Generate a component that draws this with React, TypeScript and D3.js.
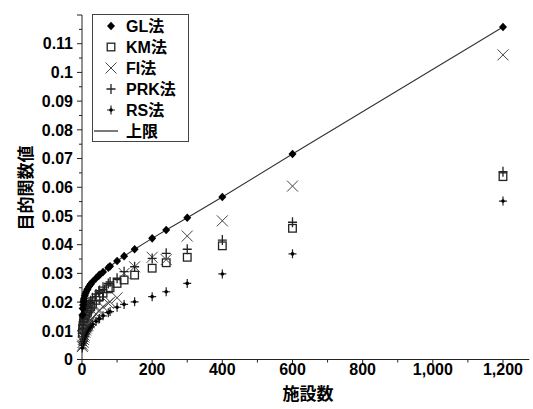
import React from "react";
import * as d3 from "d3";

const xValues = [1200, 600, 400, 300, 240, 200, 150, 120, 100, 80, 75, 60, 50, 48, 40, 30, 25, 24, 20, 16, 15, 12, 10, 8, 6, 5, 4, 3, 2, 1];
const glValues = [0.1158, 0.0716, 0.0566, 0.0494, 0.0451, 0.0422, 0.0384, 0.036, 0.0343, 0.0325, 0.032, 0.0305, 0.0295, 0.0292, 0.0283, 0.0271, 0.0263, 0.0261, 0.0254, 0.0246, 0.0243, 0.0236, 0.023, 0.0222, 0.0213, 0.0207, 0.02, 0.019, 0.0178, 0.0155];
const kmValues = [0.0637, 0.0457, 0.0396, 0.0356, 0.0337, 0.0318, 0.0294, 0.0277, 0.0265, 0.025, 0.0246, 0.0231, 0.022, 0.0217, 0.0206, 0.0193, 0.0185, 0.0183, 0.0176, 0.0168, 0.0165, 0.0158, 0.0152, 0.0145, 0.0137, 0.0132, 0.0126, 0.0118, 0.0108, 0.0092];
const fiValues = [0.1061, 0.0604, 0.0483, 0.043, 0.0348, 0.0356, 0.0323, 0.03, 0.0215, 0.0201, 0.0196, 0.0184, 0.0172, 0.0168, 0.0158, 0.0145, 0.0138, 0.0136, 0.0128, 0.012, 0.0117, 0.011, 0.0103, 0.0095, 0.0085, 0.0078, 0.007, 0.006, 0.005, 0.0045];
const prkValues = [0.0654, 0.0478, 0.0416, 0.0384, 0.037, 0.0352, 0.0323, 0.0306, 0.0283, 0.027, 0.0265, 0.0252, 0.024, 0.0238, 0.0228, 0.0215, 0.0205, 0.0203, 0.0195, 0.0185, 0.0182, 0.0172, 0.0165, 0.0155, 0.0145, 0.0138, 0.013, 0.012, 0.0108, 0.009];
const rsValues = [0.0552, 0.0368, 0.0298, 0.0265, 0.0236, 0.0219, 0.0201, 0.0192, 0.0182, 0.0167, 0.0163, 0.0152, 0.0143, 0.0141, 0.0133, 0.0122, 0.0115, 0.0113, 0.0107, 0.01, 0.0098, 0.0091, 0.0086, 0.008, 0.0072, 0.0068, 0.0063, 0.0057, 0.005, 0.004];
const upperValues = glValues;

const xTicks = [0, 200, 400, 600, 800, 1000, 1200];
const xMinorTicks = [100, 300, 500, 700, 900, 1100];
const yTicks = [0, 0.01, 0.02, 0.03, 0.04, 0.05, 0.06, 0.07, 0.08, 0.09, 0.1, 0.11];
const yTickLabels = ["0", "0.01", "0.02", "0.03", "0.04", "0.05", "0.06", "0.07", "0.08", "0.09", "0.1", "0.11"];
const legendLabels = ["GL法", "KM法", "FI法", "PRK法", "RS法", "上限"];

const FONT = "'Liberation Sans', Arial, 'Noto Sans CJK JP', sans-serif";

type Kind = "diamond" | "square" | "cross" | "plus" | "star";

function Marker({ kind, x, y }: { kind: Kind; x: number; y: number }) {
  if (kind === "diamond") {
    return <path d={`M${x},${y - 4.3}L${x + 4},${y}L${x},${y + 4.3}L${x - 4},${y}Z`} fill="#000" />;
  }
  if (kind === "square") {
    return <rect x={x - 3.8} y={y - 3.8} width={7.6} height={7.6} fill="none" stroke="#222" strokeWidth={1.3} />;
  }
  if (kind === "cross") {
    return <path d={`M${x - 5.5},${y - 5.5}L${x + 5.5},${y + 5.5}M${x - 5.5},${y + 5.5}L${x + 5.5},${y - 5.5}`} stroke="#444" strokeWidth={1} fill="none" />;
  }
  if (kind === "plus") {
    return <path d={`M${x - 4.5},${y}L${x + 4.5},${y}M${x},${y - 5}L${x},${y + 5}`} stroke="#222" strokeWidth={1.3} fill="none" />;
  }
  return (
    <g>
      <path d={`M${x - 4},${y}L${x + 4},${y}M${x},${y - 4.5}L${x},${y + 4.5}`} stroke="#222" strokeWidth={1.2} fill="none" />
      <circle cx={x} cy={y} r={1.8} fill="#000" />
    </g>
  );
}

export default function App() {
  const W = 533;
  const H = 409;
  const x = d3.scaleLinear().domain([0, 1275]).range([82, 529.3]);
  const y = d3.scaleLinear().domain([0, 0.12]).range([359.5, 15]);

  const series: { kind: Kind; values: number[] }[] = [
    { kind: "square", values: kmValues },
    { kind: "cross", values: fiValues },
    { kind: "plus", values: prkValues },
    { kind: "star", values: rsValues },
    { kind: "diamond", values: glValues },
  ];

  const line = d3
    .line<number>()
    .x((_, i) => x(xValues[i]))
    .y((d) => y(d));

  const yMinor = d3.range(0.005, 0.12, 0.01);
  const legendKinds: Kind[] = ["diamond", "square", "cross", "plus", "star"];

  return (
    <svg width={W} height={H} style={{ position: "absolute", left: 0, top: 0, background: "#fff" }}>
      <rect width={W} height={H} fill="#fff" />
      {/* axes */}
      <line x1={x(0)} x2={x(1275)} y1={y(0)} y2={y(0)} stroke="#222" strokeWidth={1} />
      <line x1={x(0)} x2={x(0)} y1={y(0)} y2={y(0.12)} stroke="#222" strokeWidth={1} />
      {xTicks.map((t) => (
        <g key={"xt" + t}>
          <line x1={x(t)} x2={x(t)} y1={y(0)} y2={y(0) + 4} stroke="#222" />
          <text x={x(t)} y={y(0) + 15} textAnchor="middle" fontFamily={FONT} fontWeight="bold" fontSize={16} fill="#000">
            {d3.format(",")(t)}
          </text>
        </g>
      ))}
      {xMinorTicks.map((t) => (
        <line key={"xm" + t} x1={x(t)} x2={x(t)} y1={y(0)} y2={y(0) + 3} stroke="#222" />
      ))}
      {yTicks.map((t, i) => (
        <g key={"yt" + i}>
          <line x1={x(0) - 5} x2={x(0)} y1={y(t)} y2={y(t)} stroke="#222" />
          <text x={x(0) - 9} y={y(t)} dy="0.36em" textAnchor="end" fontFamily={FONT} fontWeight="bold" fontSize={16} fill="#000">
            {yTickLabels[i]}
          </text>
        </g>
      ))}
      <line x1={x(0) - 5} x2={x(0)} y1={y(0.12)} y2={y(0.12)} stroke="#222" />
      {yMinor.map((t, i) => (
        <line key={"ym" + i} x1={x(0) - 3} x2={x(0)} y1={y(t)} y2={y(t)} stroke="#222" />
      ))}
      <text x={308} y={400} textAnchor="middle" fontFamily={FONT} fontWeight="bold" fontSize={17} fill="#000">
        施設数
      </text>
      <text
        transform={`translate(26,188) rotate(-90)`}
        textAnchor="middle"
        dy="0.36em"
        fontFamily={FONT}
        fontWeight="bold"
        fontSize={17}
        fill="#000"
      >
        目的関数値
      </text>
      {/* upper bound line */}
      <path d={line(upperValues) || ""} fill="none" stroke="#333" strokeWidth={1.1} />
      {series.map((s) => (
        <g key={s.kind}>
          {s.values.map((v, i) => (
            <Marker key={i} kind={s.kind} x={x(xValues[i])} y={y(v)} />
          ))}
        </g>
      ))}
      {/* legend */}
      <rect x={92.5} y={14.5} width={96} height={127} fill="#fff" stroke="#444" strokeWidth={1} />
      {legendLabels.map((lab, i) => {
        const cy = 26 + i * 21;
        return (
          <g key={lab}>
            {i < 5 ? (
              <Marker kind={legendKinds[i]} x={111} y={cy} />
            ) : (
              <line x1={94} x2={118} y1={cy} y2={cy} stroke="#222" strokeWidth={1.2} />
            )}
            <text x={126} y={cy} dy="0.36em" fontFamily={FONT} fontWeight="bold" fontSize={16} fill="#000">
              {lab}
            </text>
          </g>
        );
      })}
    </svg>
  );
}
